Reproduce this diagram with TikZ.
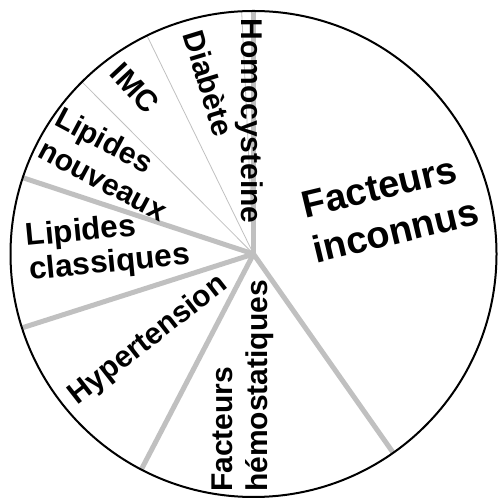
\documentclass[tikz,border=0pt]{standalone}
\usepackage{fontspec}
\setmainfont{Liberation Sans}
\usepackage{tikz}

\definecolor{raygray}{RGB}{192,192,192}

\begin{document}
\begin{tikzpicture}[
    x=1pt, y=1pt,
    every node/.style={inner sep=0pt, align=left, font=\fontsize{30}{33}\selectfont\bfseries},
    sep/.style={draw=raygray, line width=5pt},
    fine/.style={draw=raygray, line width=0.8pt},
    rim/.style={draw=black, line width=2pt}
  ]
  \useasboundingbox (0,0) rectangle (499,500);

  % Centre
  \coordinate (o) at (253.5,246);

  % Rayons
  \foreach \a [count=\i] in {90,161.7,197.7,242.5,305.1}
    \coordinate (k\i) at ([shift={(\a:243)}]o);
  \foreach \a [count=\i] in {92.8,116,134.9}
    \coordinate (f\i) at ([shift={(\a:243)}]o);

  \foreach \i in {1,2,3}
    \draw[fine] (o) -- (f\i);
  \foreach \i in {1,...,5}
    \draw[sep] (o) -- (k\i);

  % Secteurs
  \node[rotate=-90] (homo) at (249,379) {Homocysteine};
  \node[rotate=-73] (diab) at (209,417) {Diabète};
  \node[rotate=-47] (imc) at (135,412) {IMC};
  \node[rotate=-28, font=\fontsize{30}{36}\selectfont\bfseries] (lipnouv) at (111.5,336) {Lipides\\nouveaux};
  \node[rotate=5.5, font=\fontsize{31.5}{34}\selectfont\bfseries] (lipclass) at (108,253) {Lipides\\classiques};
  \node[rotate=38] (hyper) at (148.5,159.6) {Hypertension};
  \node[rotate=90, font=\fontsize{30}{35}\selectfont\bfseries] (hemo) at (242.5,114) {Facteurs\\hémostatiques};
  \node[rotate=13.5, font=\fontsize{38}{46.6}\selectfont\bfseries] (inconnus) at (390,291.5) {Facteurs\\inconnus};

  \draw[rim] (o) circle (243);

\end{tikzpicture}
\end{document}
